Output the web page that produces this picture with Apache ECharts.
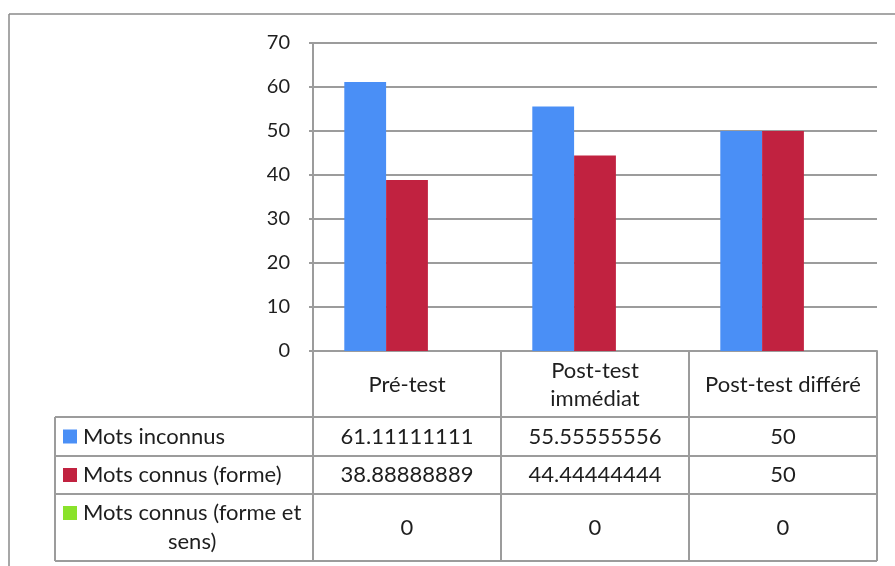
<!DOCTYPE html>
<html><head><meta charset="utf-8">
<script src="https://cdn.jsdelivr.net/npm/echarts@6/dist/echarts.min.js"></script>
<style>html,body{margin:0;padding:0;background:#fff}#c{width:895px;height:566px}</style>
</head><body><div id="c"></div>
<script>
const categories = ['Pré-test', 'Post-test immédiat', 'Post-test différé'];
const headerLabels = ['Pré-test', 'Post-test\nimmédiat', 'Post-test différé'];
const seriesNames = ['Mots inconnus', 'Mots connus (forme)', 'Mots connus (forme et sens)'];
const rowLabels = ['Mots inconnus', 'Mots connus (forme)', 'Mots connus (forme et\nsens)'];
const motsInconnus = [61.11111111, 55.55555556, 50];
const motsConnusForme = [38.88888889, 44.44444444, 50];
const motsConnusFormeSens = [0, 0, 0];
const yMin = 0, yMax = 70, yStep = 10;

const colors = ['#4A8FF6', '#C12240', '#8AE22B'];
const allSeries = [motsInconnus, motsConnusForme, motsConnusFormeSens];
const GRID = '#9c9c9c';
const TXT = '#1e1e1e';
const TFONT = 'Lato';
const TSIZE = 22;

const chart = echarts.init(document.getElementById('c'), null, {renderer: 'canvas'});
const option = {
  animation: false,
  backgroundColor: '#fff',
  grid: {left: 313, top: 43, width: 564, height: 308, containLabel: false},
  xAxis: {
    type: 'category', data: categories,
    axisLine: {show: true, lineStyle: {color: GRID, width: 2}},
    axisTick: {show: false}, axisLabel: {show: false}, splitLine: {show: false}
  },
  yAxis: {
    type: 'value', min: yMin, max: yMax, interval: yStep,
    axisLine: {show: true, lineStyle: {color: GRID, width: 2}},
    axisTick: {show: true, length: 4, lineStyle: {color: GRID, width: 2}},
    axisLabel: {color: TXT, fontFamily: TFONT, fontSize: 20, margin: 23},
    splitLine: {show: true, lineStyle: {color: GRID, width: 2}}
  },
  series: allSeries.map((d, i) => ({
    name: seriesNames[i], type: 'bar', data: d,
    barGap: '0%', barCategoryGap: '33.3%',
    itemStyle: {color: colors[i]}
  }))
};
chart.setOption(option);

// Build data table from the axes' scales
const centers = categories.map((c, i) => chart.convertToPixel({xAxisIndex: 0}, i));
const band = centers.length > 1 ? centers[1] - centers[0] : 564;
const colEdges = [centers[0] - band / 2].concat(centers.map(c => c + band / 2));
const yZero = chart.convertToPixel({yAxisIndex: 0}, 0);
const tableLeft = 55;
const rowHeights = [66, 39, 38, 67];
const rowEdges = [yZero];
rowHeights.forEach(h => rowEdges.push(rowEdges[rowEdges.length - 1] + h));

const g = [];
const line = (x1, y1, x2, y2, c, w) => g.push({type: 'line', silent: true, shape: {x1, y1, x2, y2}, style: {stroke: c || GRID, lineWidth: w || 2}});
const text = (x, y, t, align, extra) => g.push({type: 'text', silent: true, x, y, style: Object.assign({text: t, fill: TXT, font: TSIZE + 'px ' + TFONT, align: align || 'center', verticalAlign: 'middle', lineHeight: 28}, extra || {})});

// outer chart border (top & left only visible)
line(9, 14, 895, 14, '#8a8a8a', 1.5);
line(9, 14, 9, 566, '#8a8a8a', 1.5);

// table horizontal lines
for (let r = 1; r < rowEdges.length; r++) line(tableLeft, rowEdges[r], colEdges[colEdges.length - 1], rowEdges[r]);
// vertical lines
line(tableLeft, rowEdges[1], tableLeft, rowEdges[rowEdges.length - 1]);
colEdges.forEach(x => line(x, rowEdges[0], x, rowEdges[rowEdges.length - 1]));

// header
headerLabels.forEach((h, i) => text(centers[i], (rowEdges[0] + rowEdges[1]) / 2 + 1, h));

// rows
const ctx = document.createElement('canvas').getContext('2d');
ctx.font = TSIZE + 'px ' + TFONT;
rowLabels.forEach((lab, r) => {
  const yc = (rowEdges[r + 1] + rowEdges[r + 2]) / 2;
  const lines = lab.split('\n');
  const firstY = lines.length > 1 ? yc - 14.5 : yc;
  g.push({type: 'rect', silent: true, shape: {x: 63, y: firstY - 7, width: 14, height: 14}, style: {fill: colors[r]}});
  if (lines.length > 1) {
    const w = ctx.measureText(lines[0]).width;
    text(83 + w / 2, yc, lab, 'center', {lineHeight: 29});
  } else {
    text(83, yc, lab, 'left');
  }
  allSeries[r].forEach((v, i) => text(centers[i], yc, String(v)));
});

chart.setOption({graphic: {elements: g}});
</script></body></html>
